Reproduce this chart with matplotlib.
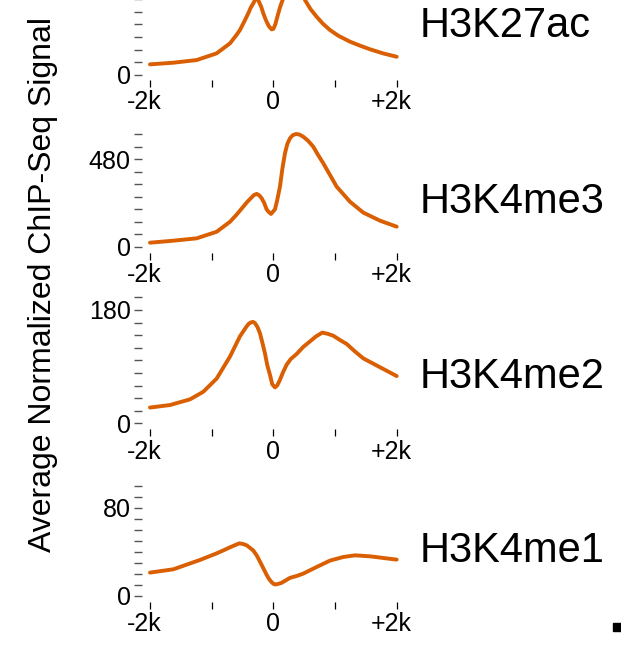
import numpy as np
import matplotlib
matplotlib.use('Agg')
import matplotlib.pyplot as plt
from matplotlib.patches import Rectangle
from matplotlib.transforms import ScaledTranslation

plt.rcParams['font.family'] = ['Liberation Sans', 'DejaVu Sans']

# distance from TSS (bp) and average signal
k27ac_x = [-2000, -1622, -1244, -920, -704, -600, -543, -470, -408, -370, -326, -290, -270, -246,
           -200, -165, -120, -75, -30, 0, 30, 78, 110, 148, 330, 510, 600, 699, 800, 915, 1050,
           1239, 1400, 1563, 1780, 1995]
k27ac_y = [84, 97, 118, 171, 250, 315, 355, 425, 487, 530, 566, 600, 620, 590,
           540, 487, 430, 385, 360, 365, 400, 487, 540, 592, 800, 592, 520, 460, 405, 355, 310,
           263, 232, 203, 170, 144]

k4me3_x = [-2000, -1622, -1244, -920, -704, -600, -489, -420, -353, -320, -272, -230, -191, -150,
           -111, -75, -40, 24, 60, 105, 145, 186, 225, 267, 310, 364, 420, 483, 560, 645, 720,
           807, 1023, 1239, 1455, 1725, 1995]
k4me3_y = [22, 33, 46, 82, 137, 175, 220, 248, 271, 283, 290, 282, 266, 240,
           205, 190, 180, 205, 255, 330, 430, 513, 565, 595, 612, 619, 616, 604, 582, 549, 505,
           458, 330, 247, 187, 143, 110]

k4me2_x = [-2000, -1676, -1352, -1137, -920, -704, -543, -434, -400, -369, -330, -300, -260,
           -219, -180, -138, -100, -57, -20, 24, 60, 105, 150, 213, 280, 375, 480, 591, 690,
           791, 880, 969, 1080, 1185, 1320, 1455, 1590, 1725, 1860, 1995]
k4me2_y = [25, 29, 38, 50, 71, 106, 138, 154, 158, 160, 161, 159, 153,
           143, 128, 111, 92, 77, 62, 57, 60, 69, 80, 93, 102, 110, 121, 130, 138,
           144, 142, 139, 132, 126, 114, 103, 96, 89, 82, 75]

k4me1_x = [-2000, -1622, -1190, -920, -800, -704, -553, -490, -434, -380, -326, -270, -219,
           -165, -111, -70, -30, 0, 24, 60, 132, 200, 267, 380, 483, 699, 915, 1131, 1320,
           1563, 1778, 1995]
k4me1_y = [21, 24, 32.5, 38.5, 41.5, 44, 47.6, 47, 45.8, 43.5, 41, 36.5, 31,
           25, 19, 15, 12.3, 10.8, 10.2, 10.5, 11.7, 14, 16.2, 18, 20.1, 26.1, 31.9, 35.2, 36.7,
           35.8, 34.3, 32.8]

marks = ['H3K27ac', 'H3K4me3', 'H3K4me2', 'H3K4me1']
xs = [k27ac_x, k4me3_x, k4me2_x, k4me1_x]
ys = [k27ac_y, k4me3_y, k4me2_y, k4me1_y]
tick_steps = [100, 480 / 7, 20, 10]
n_ticks = [10, 9, 10, 10]
labelled = [[0], [0, 7], [0, 9], [0, 8]]

# axes layout in pixels: (bottom px, zero px, px per unit)
W, H = 621, 652
panels = [(80, 75, 12.67 / 100), (252.7, 246.7, 87.4 / 480), (429.3, 423.3, 0.63), (601.5, 595.7, 1.1)]
text_base = [37, 213, 388, 562]

color = '#D95F02'
fig = plt.figure(figsize=(W / 100, H / 100), dpi=100)

x_left, x_right = -2134, 2134
ax_l = 141.7
ax_w = (x_right - x_left) * 0.06175

for i in range(4):
    bpx, zpx, scale = panels[i]
    ymin = -(bpx - zpx) / scale
    ymax = tick_steps[i] * n_ticks[i]
    top_px = zpx - ymax * scale
    ax = fig.add_axes([ax_l / W, 1 - bpx / H, ax_w / W, (bpx - top_px) / H])
    ax.plot(xs[i], ys[i], color=color, lw=2.8, clip_on=False,
            solid_joinstyle='round', solid_capstyle='round')
    ax.set_xlim(x_left, x_right)
    ax.set_ylim(ymin, ymax)
    for s in ax.spines.values():
        s.set_visible(False)
    ax.patch.set_visible(False)

    ax.set_xticks([-2000, -1000, 0, 1000, 2000])
    ax.set_xticklabels(['-2k', '', '0', '', '+2k'])
    ax.tick_params(axis='x', length=5, width=0.9, color='black', pad=2.5, labelsize=18)
    shift = ScaledTranslation(-6 / 100, 0, fig.dpi_scale_trans)
    for lab in (ax.get_xticklabels()[0], ax.get_xticklabels()[4]):
        lab.set_transform(lab.get_transform() + shift)

    yt = [j * tick_steps[i] for j in range(n_ticks[i] + 1)]
    ax.set_yticks(yt)
    ax.set_yticklabels([str(int(round(v))) if j in labelled[i] else '' for j, v in enumerate(yt)])
    ax.tick_params(axis='y', length=6, width=1.0, color='#555555', pad=2, labelsize=18)

    fig.text(420 / W, 1 - text_base[i] / H, marks[i], fontsize=30, va='baseline', ha='left')

fig.text(43 / W, 1 - 284 / H, 'Average Normalized ChIP-Seq Signal', rotation=90,
         fontsize=23, ha='center', va='center')

fig.patches.append(Rectangle((612.5 / W, 1 - 630.5 / H), 8.5 / W, 8 / H,
                             transform=fig.transFigure, color='black', figure=fig))

fig.savefig('out.png', dpi=100)
